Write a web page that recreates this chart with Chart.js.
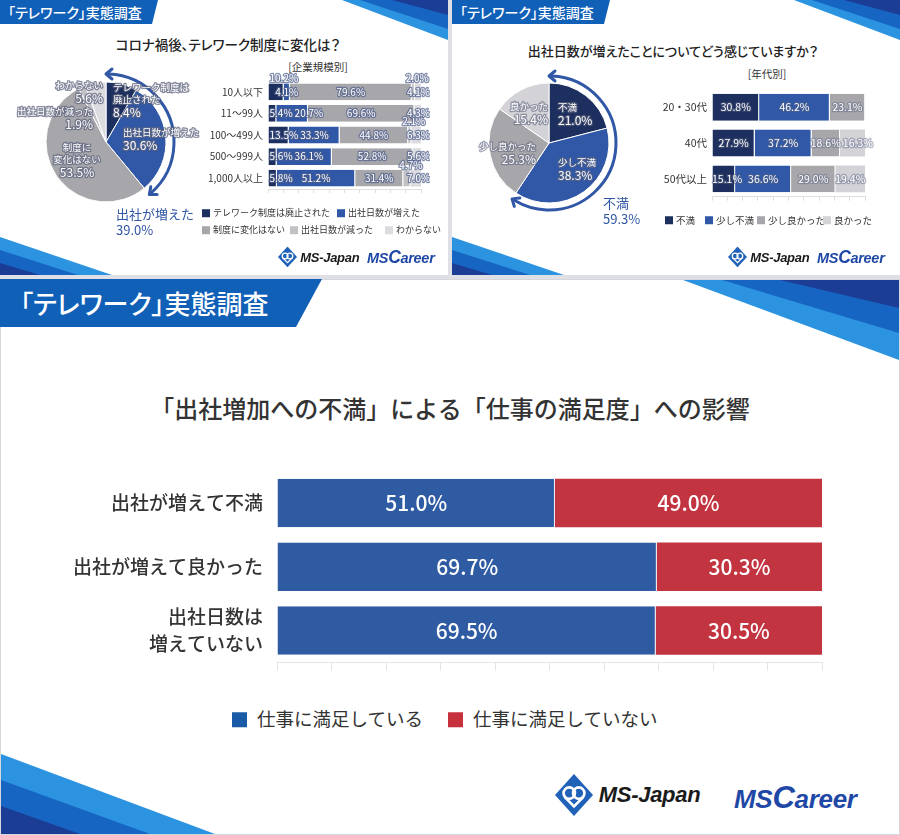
<!DOCTYPE html>
<html lang="ja">
<head>
<meta charset="utf-8">
<title>「テレワーク」実態調査</title>
<script src="https://cdn.jsdelivr.net/npm/chart.js@4.4.1/dist/chart.umd.min.js"></script>
<style>
  html, body { margin: 0; padding: 0; }
  body {
    width: 900px; height: 835px; position: relative; overflow: hidden;
    background: #dfe0e5; color: #333;
    font-family: 'Noto Sans CJK JP', 'Noto Sans', sans-serif;
  }
  .panel { position: absolute; background: #fff; }
  .t { position: absolute; white-space: nowrap; line-height: 1; }
  .c { transform: translate(-50%, -50%); }
  .l { transform: translateY(-50%); }
  .palt { font-feature-settings: "palt"; }
  canvas { position: absolute; }
  svg.deco { position: absolute; left: 0; top: 0; }
  .sq { display: inline-block; vertical-align: middle; margin-right: 3px; position: relative; top: -1px; }
  .logo-j { font-family: 'Liberation Sans', Arial, sans-serif; font-weight: bold; font-style: italic; color: #1a1a1a; letter-spacing: -0.3px; }
  .logo-c { font-family: 'Liberation Sans', Arial, sans-serif; font-weight: bold; font-style: italic; color: #1f48a6; letter-spacing: -0.3px; }
</style>
</head>
<body>

<!-- panels -->
<div class="panel" style="left:0;top:0;width:448px;height:275px;"></div>
<div class="panel" style="left:452px;top:0;width:448px;height:275px;"></div>
<div class="panel" style="left:0;top:279px;width:898px;height:554px;border:1px solid #d6d7dc;"></div>

<!-- blue decorations -->
<svg class="deco" width="900" height="835">
  <!-- top-left panel -->
  <polygon points="0,0 158,0 152,24 0,24" fill="#1160b8"/>
  <polygon points="342,0 448,0 448,40" fill="#2b93e0"/>
  <polygon points="360,0 448,0 448,29" fill="#1765c2"/>
  <polygon points="392,0 448,0 448,15" fill="#1b3d96"/>
  <polygon points="0,237 112,275 0,275" fill="#2b93e0"/>
  <polygon points="0,250 78,275 0,275" fill="#1765c2"/>
  <polygon points="0,263 40,275 0,275" fill="#1b3d96"/>
  <!-- top-right panel -->
  <polygon points="452,0 610,0 604,24 452,24" fill="#1160b8"/>
  <polygon points="794,0 900,0 900,40" fill="#2b93e0"/>
  <polygon points="812,0 900,0 900,29" fill="#1765c2"/>
  <polygon points="844,0 900,0 900,15" fill="#1b3d96"/>
  <polygon points="452,237 564,275 452,275" fill="#2b93e0"/>
  <polygon points="452,250 530,275 452,275" fill="#1765c2"/>
  <polygon points="452,263 492,275 452,275" fill="#1b3d96"/>
  <!-- bottom panel -->
  <polygon points="0,279 322,279 296,327 0,327" fill="#1160b8"/>
  <polygon points="683,280 899,280 899,360" fill="#2b93e0"/>
  <polygon points="722,280 899,280 899,333" fill="#1765c2"/>
  <polygon points="780,280 899,280 899,308" fill="#1b3d96"/>
  <polygon points="1,754 215,834 1,834" fill="#2b93e0"/>
  <polygon points="1,780 150,834 1,834" fill="#1765c2"/>
  <polygon points="1,806 80,834 1,834" fill="#1b3d96"/>
</svg>

<!-- ===== top-left panel ===== -->
<div class="t l palt" style="left:8px;top:12px;font-size:14px;font-weight:500;color:#fff;">「テレワーク」実態調査</div>
<div class="t c palt" style="left:228px;top:45px;font-size:13.5px;font-weight:500;color:#222;">コロナ禍後、テレワーク制度に変化は？</div>
<div class="t c" style="left:318px;top:67px;font-size:10.5px;">[企業規模別]</div>
<canvas id="pie1" width="200" height="160" style="left:6px;top:62px;"></canvas>
<canvas id="size" width="235" height="130" style="left:195px;top:70px;"></canvas>
<div class="t l" style="left:116px;top:213px;font-size:13px;color:#2f55a4;">出社が増えた</div>
<div class="t l" id="pie1Sum" style="left:116px;top:229px;font-size:13px;color:#2f55a4;"></div>
<div class="t l" style="left:202px;top:213px;font-size:9px;"><span class="sq" style="width:8px;height:8px;background:#1d2f5e;"></span>テレワーク制度は廃止された</div>
<div class="t l" style="left:337px;top:213px;font-size:9px;"><span class="sq" style="width:8px;height:8px;background:#3058a6;"></span>出社日数が増えた</div>
<div class="t l" style="left:202px;top:230px;font-size:9px;"><span class="sq" style="width:8px;height:8px;background:#a7a7ab;"></span>制度に変化はない</div>
<div class="t l" style="left:290px;top:230px;font-size:9px;"><span class="sq" style="width:8px;height:8px;background:#c2c2c6;"></span>出社日数が減った</div>
<div class="t l" style="left:385px;top:230px;font-size:9px;"><span class="sq" style="width:8px;height:8px;background:#dcdce0;"></span>わからない</div>
<div class="t l" style="left:278px;top:257px;">
  <svg width="19" height="21" viewBox="0 0 20 22" style="vertical-align:middle;"><polygon points="10,0 20,11 10,22 0,11" fill="#1f62b8"/><circle cx="7.5" cy="10" r="3" fill="none" stroke="#fff" stroke-width="1.4"/><circle cx="12.5" cy="10" r="3" fill="none" stroke="#fff" stroke-width="1.4"/><polyline points="5,12 10,17 15,12" fill="none" stroke="#fff" stroke-width="1.4"/></svg><span class="logo-j" style="font-size:13px;vertical-align:middle;"> MS-Japan</span>
</div>
<div class="t l logo-c" style="left:367px;top:258px;font-size:14.5px;">MS<span style="font-size:17.5px;">C</span>areer</div>

<!-- ===== top-right panel ===== -->
<div class="t l palt" style="left:460px;top:12px;font-size:14px;font-weight:500;color:#fff;">「テレワーク」実態調査</div>
<div class="t c palt" style="left:673px;top:50px;font-size:13px;font-weight:500;color:#222;">出社日数が増えたことについてどう感じていますか？</div>
<div class="t c" style="left:767px;top:74px;font-size:10.5px;">[年代別]</div>
<canvas id="pie2" width="180" height="160" style="left:459px;top:63px;"></canvas>
<canvas id="age" width="240" height="130" style="left:635px;top:78px;"></canvas>
<div class="t l" style="left:603px;top:202px;font-size:13px;color:#2f55a4;">不満</div>
<div class="t l" id="pie2Sum" style="left:603px;top:218px;font-size:13px;color:#2f55a4;"></div>
<div class="t l" style="left:665px;top:221px;font-size:9.5px;"><span class="sq" style="width:8px;height:8px;background:#1d2f5e;"></span>不満</div>
<div class="t l" style="left:705px;top:221px;font-size:9.5px;"><span class="sq" style="width:8px;height:8px;background:#3058a6;"></span>少し不満</div>
<div class="t l" style="left:757px;top:221px;font-size:9.5px;"><span class="sq" style="width:8px;height:8px;background:#a7a7ab;"></span>少し良かった</div>
<div class="t l" style="left:823px;top:221px;font-size:9.5px;"><span class="sq" style="width:8px;height:8px;background:#d2d2d7;"></span>良かった</div>
<div class="t l" style="left:728px;top:257px;">
  <svg width="19" height="21" viewBox="0 0 20 22" style="vertical-align:middle;"><polygon points="10,0 20,11 10,22 0,11" fill="#1f62b8"/><circle cx="7.5" cy="10" r="3" fill="none" stroke="#fff" stroke-width="1.4"/><circle cx="12.5" cy="10" r="3" fill="none" stroke="#fff" stroke-width="1.4"/><polyline points="5,12 10,17 15,12" fill="none" stroke="#fff" stroke-width="1.4"/></svg><span class="logo-j" style="font-size:13px;vertical-align:middle;"> MS-Japan</span>
</div>
<div class="t l logo-c" style="left:817px;top:258px;font-size:14.5px;">MS<span style="font-size:17.5px;">C</span>areer</div>

<!-- ===== bottom panel ===== -->
<div class="t l palt" style="left:20px;top:303px;font-size:26px;font-weight:500;color:#fff;">「テレワーク」実態調査</div>
<div class="t c" style="left:450px;top:408px;font-size:24px;font-weight:500;color:#333;">「出社増加への不満」による「仕事の満足度」への影響</div>
<canvas id="main" width="820" height="260" style="left:40px;top:430px;"></canvas>
<div class="t l" style="left:232px;top:719px;font-size:18.5px;"><span class="sq" style="width:15px;height:15px;background:#1a5ba8;margin-right:10px;"></span>仕事に満足している</div>
<div class="t l" style="left:448px;top:719px;font-size:18.5px;"><span class="sq" style="width:15px;height:15px;background:#c7303d;margin-right:10px;"></span>仕事に満足していない</div>
<div class="t l" style="left:555px;top:795px;">
  <svg width="38" height="42" viewBox="0 0 20 22" style="vertical-align:middle;"><polygon points="10,0 20,11 10,22 0,11" fill="#1f62b8"/><circle cx="7.5" cy="10" r="3" fill="none" stroke="#fff" stroke-width="1.4"/><circle cx="12.5" cy="10" r="3" fill="none" stroke="#fff" stroke-width="1.4"/><polyline points="5,12 10,17 15,12" fill="none" stroke="#fff" stroke-width="1.4"/></svg><span class="logo-j" style="font-size:22px;vertical-align:middle;"> MS-Japan</span>
</div>
<div class="t l logo-c" style="left:734px;top:797px;font-size:26px;">MS<span style="font-size:31px;">C</span>areer</div>

<script>
// ---- data: company-size survey ----
const pie1Labels = ['テレワーク制度は廃止された', '出社日数が増えた', '制度に変化はない', '出社日数が減った', 'わからない'];
const pie1Values = [8.4, 30.6, 53.5, 1.9, 5.6];
const sizeCategories = ['10人以下', '11～99人', '100～499人', '500～999人', '1,000人以上'];
const sizeAbolished = [10.2, 5.4, 13.5, 5.6, 5.8];
const sizeIncreased = [4.1, 20.7, 33.3, 36.1, 51.2];
const sizeNoChange = [79.6, 69.6, 44.8, 52.8, 31.4];
const sizeDecreased = [2.0, 0, 2.1, 0, 4.7];
const sizeUnknown = [4.1, 4.3, 6.3, 5.6, 7.0];

// ---- data: feeling about more office days ----
const pie2Labels = ['不満', '少し不満', '少し良かった', '良かった'];
const pie2Values = [21.0, 38.3, 25.3, 15.4];
const ageCategories = ['20・30代', '40代', '50代以上'];
const ageDissatisfied = [30.8, 27.9, 15.1];
const ageSlightlyDissatisfied = [46.2, 37.2, 36.6];
const ageSlightlyGood = [23.1, 18.6, 29.0];
const ageGood = [0, 16.3, 19.4];

// ---- data: job satisfaction ----
const groupCategories = [['出社が増えて不満'], ['出社が増えて良かった'], ['出社日数は', '増えていない']];
const satisfiedLabel = '仕事に満足している';
const notSatisfiedLabel = '仕事に満足していない';
const satisfied = [51.0, 69.7, 69.5];
const notSatisfied = [49.0, 30.3, 30.5];

const NAVY = '#1d2f5e', BLUE = '#3058a6', GRAY = '#a7a7ab';
const pie1Colors = [NAVY, BLUE, GRAY, '#c2c2c6', '#dcdce0'];
const pie2Colors = [NAVY, BLUE, GRAY, '#d2d2d7'];
const FONT = "'Noto Sans CJK JP', 'Noto Sans', sans-serif";

Chart.defaults.font.family = FONT;
Chart.defaults.color = '#333';
Chart.defaults.animation = false;
Chart.defaults.plugins.legend.display = false;
Chart.defaults.plugins.tooltip.enabled = false;

const pct = v => v.toFixed(1) + '%';
document.getElementById('pie1Sum').textContent = pct(pie1Values[0] + pie1Values[1]);
document.getElementById('pie2Sum').textContent = pct(pie2Values[0] + pie2Values[1]);

function haloText(ctx, text, x, y, halo) {
    if (halo) {
        ctx.lineWidth = 2.5;
        ctx.strokeStyle = halo;
        ctx.lineJoin = 'round';
        ctx.strokeText(text, x, y);
    }
    ctx.fillStyle = '#fff';
    ctx.fillText(text, x, y);
}

// slice labels + the curved bracket arrow round the first slices
const pieLabelPlugin = {
    id: 'pieLabels',
    afterDatasetsDraw(chart, args, opts) {
        const ctx = chart.ctx;
        const meta = chart.getDatasetMeta(0);
        const first = meta.data[0];
        const cx = first.x, cy = first.y;

        // bracket arc
        const last = meta.data[opts.bracketCount - 1];
        const R = first.outerRadius + opts.bracketGap;
        const a0 = first.startAngle, a1 = last.endAngle;
        ctx.save();
        ctx.strokeStyle = BLUE;
        ctx.lineWidth = 3;
        ctx.lineCap = 'round';
        ctx.lineJoin = 'round';
        ctx.beginPath();
        ctx.arc(cx, cy, R, a0 + 0.04, a1 - 0.04);
        ctx.stroke();
        const head = (a, dir) => {
            const px = cx + R * Math.cos(a), py = cy + R * Math.sin(a);
            const dx = -Math.sin(a) * dir, dy = Math.cos(a) * dir;
            const nx = Math.cos(a), ny = Math.sin(a);
            ctx.beginPath();
            ctx.moveTo(px - dx * 6 + nx * 5, py - dy * 6 + ny * 5);
            ctx.lineTo(px, py);
            ctx.lineTo(px - dx * 6 - nx * 5, py - dy * 6 - ny * 5);
            ctx.stroke();
        };
        head(a0, -1);
        head(a1, 1);

        // slice texts
        ctx.textBaseline = 'middle';
        meta.data.forEach((arc, i) => {
            const [dx, dy, align] = opts.places[i];
            const lines = opts.texts[i];
            ctx.textAlign = align;
            ctx.font = '9.5px ' + FONT;
            let y = cy + dy;
            lines.forEach(line => {
                haloText(ctx, line, cx + dx, y, opts.halo);
                y += 12;
            });
            ctx.font = '12px ' + FONT;
            haloText(ctx, pct(chart.data.datasets[0].data[i]), cx + dx, y + 1, opts.halo);
        });
        ctx.restore();
    }
};

// value labels inside (or just above) each stacked segment
const barLabelPlugin = {
    id: 'barLabels',
    afterDatasetsDraw(chart, args, opts) {
        const ctx = chart.ctx;
        const n = chart.data.datasets.length;
        const lastRight = [];
        ctx.save();
        ctx.font = opts.font;
        ctx.textAlign = 'left';
        ctx.textBaseline = 'middle';
        chart.data.datasets.forEach((ds, di) => {
            chart.getDatasetMeta(di).data.forEach((bar, i) => {
                const v = ds.data[i];
                if (!v) return;
                const text = pct(v);
                const w = ctx.measureText(text).width;
                const above = (opts.above || []).some(p => p[0] === di && p[1] === i);
                let left;
                if (opts.leftFirst && di === 0) {
                    left = bar.base + 1;
                } else if (opts.rightLast !== undefined && di === n - 1) {
                    left = bar.x + opts.rightLast - w;
                } else {
                    left = (bar.x + bar.base) / 2 - w / 2;
                    if (above) left += opts.aboveShift || 0;
                    else if (opts.avoid && lastRight[i] !== undefined && left < lastRight[i] + 2) left = lastRight[i] + 2;
                }
                left = Math.max(left, chart.chartArea.left);
                if (!above) lastRight[i] = left + w;
                const y = above ? bar.y - bar.height / 2 - 5 : bar.y;
                haloText(ctx, text, left, y, opts.halo);
            });
        });
        ctx.restore();
    }
};

function pieChart(id, labels, values, colors, pieOpts) {
    return new Chart(document.getElementById(id), {
        type: 'pie',
        data: {
            labels: labels,
            datasets: [{
                data: values,
                backgroundColor: colors,
                borderColor: '#fff',
                borderWidth: 1,
                radius: 60
            }]
        },
        options: {
            responsive: false,
            layout: { padding: 0 },
            plugins: { pieLabels: pieOpts }
        },
        plugins: [pieLabelPlugin]
    });
}

pieChart('pie1', pie1Labels, pie1Values, pie1Colors, {
    bracketCount: 2,
    bracketGap: 8,
    halo: 'rgba(95,100,125,0.75)',
    texts: [['テレワーク制度は', '廃止された'], ['出社日数が増えた'], ['制度に', '変化はない'], ['出社日数が減った'], ['わからない']],
    places: [[7, -55, 'left'], [17, -10, 'left'], [-29, 5, 'center'], [-13, -31, 'right'], [-3, -57, 'right']]
});

pieChart('pie2', pie2Labels, pie2Values, pie2Colors, {
    bracketCount: 2,
    bracketGap: 7,
    halo: 'rgba(95,100,125,0.6)',
    texts: [['不満'], ['少し不満'], ['少し良かった'], ['良かった']],
    places: [[9, -36, 'left'], [9, 19, 'left'], [-13, 3, 'right'], [-1, -37, 'right']]
});

function stackedBar(id, categories, datasets, cfg) {
    return new Chart(document.getElementById(id), {
        type: 'bar',
        data: { labels: categories, datasets: datasets },
        options: {
            responsive: false,
            indexAxis: 'y',
            layout: { padding: cfg.padding },
            datasets: { bar: { categoryPercentage: 1, barPercentage: cfg.barPct } },
            scales: {
                x: {
                    stacked: true, min: 0, max: 100,
                    ticks: { display: false, stepSize: 10 },
                    grid: { drawOnChartArea: false, tickLength: cfg.tickLength, color: cfg.gridColor },
                    border: { color: cfg.gridColor }
                },
                y: {
                    stacked: true,
                    grid: { display: false, drawTicks: false },
                    border: { display: false },
                    ticks: { font: cfg.tickFont, color: '#333', padding: cfg.tickPad },
                    afterFit: scale => { scale.width = cfg.axisWidth; }
                }
            },
            plugins: { barLabels: cfg.labels }
        },
        plugins: [barLabelPlugin]
    });
}

stackedBar('size', sizeCategories, [
    { label: pie1Labels[0], data: sizeAbolished, backgroundColor: pie1Colors[0], borderColor: '#fff', borderWidth: { right: 1 } },
    { label: pie1Labels[1], data: sizeIncreased, backgroundColor: pie1Colors[1], borderColor: '#fff', borderWidth: { right: 1 } },
    { label: pie1Labels[2], data: sizeNoChange, backgroundColor: pie1Colors[2], borderColor: '#fff', borderWidth: { right: 1 } },
    { label: pie1Labels[3], data: sizeDecreased, backgroundColor: pie1Colors[3], borderColor: '#fff', borderWidth: { right: 1 } },
    { label: pie1Labels[4], data: sizeUnknown, backgroundColor: pie1Colors[4] }
], {
    padding: { top: 11, bottom: 6, right: 9, left: 0 },
    barPct: 0.78, tickLength: 4, gridColor: '#dedede',
    tickFont: { size: 10 }, tickPad: 5, axisWidth: 73,
    labels: {
        font: '10px ' + FONT, halo: 'rgba(80,95,140,0.7)',
        leftFirst: true, rightLast: 9, avoid: true, aboveShift: 4,
        above: [[0, 0], [3, 0], [3, 2], [3, 4]]
    }
});

stackedBar('age', ageCategories, [
    { label: pie2Labels[0], data: ageDissatisfied, backgroundColor: pie2Colors[0], borderColor: '#fff', borderWidth: { right: 1 } },
    { label: pie2Labels[1], data: ageSlightlyDissatisfied, backgroundColor: pie2Colors[1], borderColor: '#fff', borderWidth: { right: 1 } },
    { label: pie2Labels[2], data: ageSlightlyGood, backgroundColor: pie2Colors[2], borderColor: '#fff', borderWidth: { right: 1 } },
    { label: pie2Labels[3], data: ageGood, backgroundColor: pie2Colors[3] }
], {
    padding: { top: 6, bottom: 6, right: 10, left: 0 },
    barPct: 0.75, tickLength: 4, gridColor: '#dedede',
    tickFont: { size: 10.5 }, tickPad: 5, axisWidth: 77,
    labels: { font: '10.5px ' + FONT, halo: 'rgba(90,100,130,0.45)', avoid: true }
});

stackedBar('main', groupCategories, [
    { label: satisfiedLabel, data: satisfied, backgroundColor: '#2f5ba2', borderColor: '#e8ecf5', borderWidth: { right: 1 } },
    { label: notSatisfiedLabel, data: notSatisfied, backgroundColor: '#c23440' }
], {
    padding: { top: 9, bottom: 9, right: 38, left: 0 },
    barPct: 0.76, tickLength: 8, gridColor: '#e4e4e6',
    tickFont: { size: 19, weight: '500', lineHeight: 1.42 }, tickPad: 14, axisWidth: 237,
    labels: { font: '500 21px ' + FONT, halo: null }
});
</script>
</body>
</html>
